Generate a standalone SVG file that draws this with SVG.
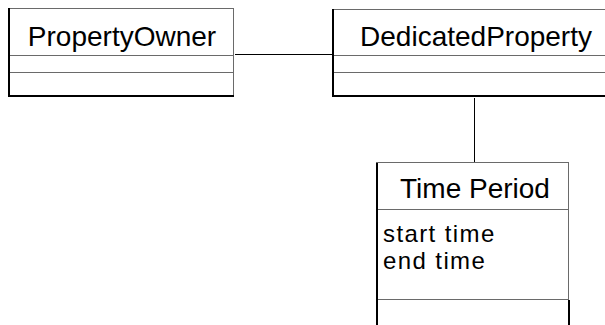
<svg xmlns="http://www.w3.org/2000/svg" width="605" height="325" viewBox="0 0 605 325">
  <style>
    .frame { fill: #ffffff; stroke: #6a6a6a; stroke-width: 1; }
    .edge { stroke: #000000; stroke-width: 2; fill: none; }
    .divider { stroke: #6a6a6a; stroke-width: 1.2; fill: none; }
    .link { stroke: #000000; stroke-width: 1; fill: none; }
    .name { font-family: "Liberation Sans", Arial, sans-serif; font-size: 28px; fill: #000000; text-anchor: middle; }
    .attr { font-family: "Liberation Sans", Arial, sans-serif; font-size: 24px; letter-spacing: 1.4px; fill: #000000; }
  </style>
  <rect width="605" height="325" fill="#ffffff"/>

  <!-- associations -->
  <g id="connectors">
    <line class="link" x1="235" y1="54.5" x2="332" y2="54.5"/>
    <line class="link" x1="474.5" y1="98" x2="474.5" y2="162"/>
  </g>

  <!-- class: PropertyOwner -->
  <g id="PropertyOwner">
    <rect class="frame" x="8.5" y="8.5" width="225" height="88"/>
    <line class="divider" x1="9" y1="55.5" x2="233" y2="55.5"/>
    <line class="divider" x1="9" y1="72.5" x2="233" y2="72.5"/>
    <polyline class="edge" points="9,8 9,96 234,96"/>
    <text class="name" x="122" y="46">PropertyOwner</text>
  </g>

  <!-- class: DedicatedProperty (runs off the right edge) -->
  <g id="DedicatedProperty">
    <rect class="frame" x="332.5" y="9.5" width="290" height="86"/>
    <line class="divider" x1="333" y1="55.5" x2="605" y2="55.5"/>
    <line class="divider" x1="333" y1="72.5" x2="605" y2="72.5"/>
    <polyline class="edge" points="333,9 333,96 605,96"/>
    <text class="name" x="476" y="46">DedicatedProperty</text>
  </g>

  <!-- class: Time Period (runs off the bottom edge) -->
  <g id="TimePeriod">
    <rect class="frame" x="376.5" y="162.5" width="192" height="180"/>
    <line class="divider" x1="377" y1="209.5" x2="568" y2="209.5"/>
    <line class="divider" x1="377" y1="299.5" x2="568" y2="299.5"/>
    <line class="edge" x1="377" y1="163" x2="377" y2="325"/>
    <line class="edge" x1="569" y1="300" x2="569" y2="325"/>
    <text class="name" x="475" y="198">Time Period</text>
    <text class="attr" x="383" y="242">start time</text>
    <text class="attr" x="383" y="269">end time</text>
  </g>
</svg>
